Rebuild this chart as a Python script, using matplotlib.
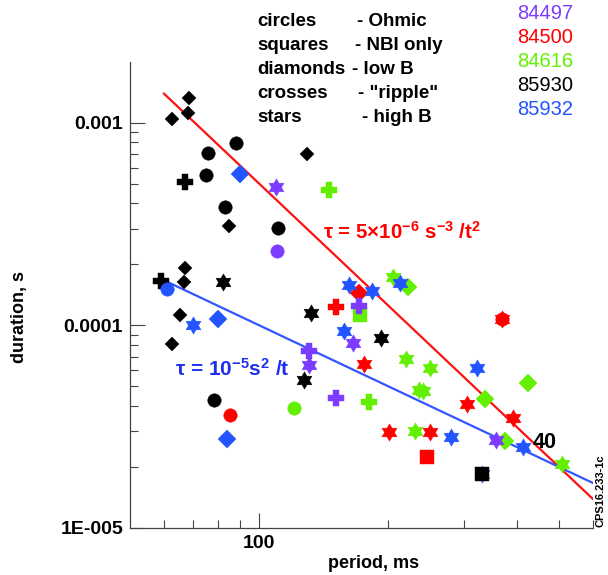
import matplotlib
matplotlib.use("Agg")
import matplotlib.pyplot as plt
import numpy as np
from matplotlib.path import Path
from matplotlib.ticker import FixedLocator, NullFormatter, LogLocator

plt.rcParams["font.family"] = ["Liberation Sans", "DejaVu Sans"]
plt.rcParams["mathtext.default"] = "regular"

# period t (ms), duration tau (s), regime of every point, per shot
t_84497 = [110.3, 130.4, 150.9, 171.0, 109.7, 130.5, 165.3, 356.0, 331.4]
tau_84497 = [2.33e-4, 7.46e-5, 4.37e-5, 1.24e-4, 4.80e-4, 6.37e-5, 8.14e-5, 2.72e-5, 1.84e-5]
reg_84497 = ["ohmic", "ripple", "ripple", "ripple", "highB", "highB", "highB", "highB", "highB"]

t_84500 = [85.4, 367.7, 246.0, 170.8, 150.7, 175.4, 305.9, 389.9, 200.4, 250.5, 367.7]
tau_84500 = [3.62e-5, 1.07e-4, 2.23e-5, 1.44e-4, 1.235e-4, 6.44e-5, 4.09e-5, 3.47e-5, 2.99e-5, 2.97e-5, 1.07e-4]
reg_84500 = ["ohmic", "ohmic", "nbi", "lowB", "ripple", "highB", "highB", "highB", "highB", "highB", "highB"]

t_84616 = [120.4, 171.4, 222.3, 422.5, 336.2, 374.2, 145.2, 180.7,
           205.2, 220.3, 250.5, 235.3, 240.9, 230.4, 509.4]
tau_84616 = [3.92e-5, 1.12e-4, 1.55e-4, 5.18e-5, 4.33e-5, 2.70e-5, 4.65e-4, 4.17e-5,
             1.74e-4, 6.79e-5, 6.14e-5, 4.80e-5, 4.74e-5, 3.01e-5, 2.08e-5]
reg_84616 = ["ohmic", "nbi", "lowB", "lowB", "lowB", "lowB", "ripple", "ripple",
             "highB", "highB", "highB", "highB", "highB", "highB", "highB"]

t_85930 = [88.3, 76.1, 75.3, 83.2, 110.5, 78.5, 331.4,
           68.8, 62.7, 68.4, 129.5, 85.2, 67.2, 66.9, 65.4, 62.8,
           67.2, 59.1, 82.2, 132.1, 127.5, 192.4]
tau_85930 = [7.91e-4, 7.06e-4, 5.51e-4, 3.85e-4, 3.01e-4, 4.27e-5, 1.84e-5,
             1.318e-3, 1.038e-3, 1.12e-3, 6.98e-4, 3.10e-4, 1.91e-4, 1.64e-4, 1.13e-4, 8.05e-5,
             5.11e-4, 1.66e-4, 1.64e-4, 1.15e-4, 5.36e-5, 8.63e-5]
reg_85930 = ["ohmic"] * 6 + ["nbi"] + ["lowB"] * 9 + ["ripple"] * 2 + ["highB"] * 4

t_85932 = [61.1, 90.3, 80.3, 84.2, 70.3, 161.8, 183.4, 157.5, 213.4, 322.6, 280.3, 411.3]
tau_85932 = [1.51e-4, 5.56e-4, 1.07e-4, 2.76e-5, 1.007e-4, 1.58e-4, 1.48e-4, 9.41e-5,
             1.61e-4, 6.14e-5, 2.82e-5, 2.52e-5]
reg_85932 = ["ohmic", "lowB", "lowB", "lowB"] + ["highB"] * 8

shots = ["84497", "84500", "84616", "85930", "85932"]
shot_colors = ["#7b3cff", "#ff0000", "#62f000", "#000000", "#2255ff"]

# scaling-law lines, drawn between these periods (ms)
t_fit = np.array([60.0, 600.0])

hexagram = Path.unit_regular_star(6, 0.577)
markers = {"ohmic": "o", "nbi": "s", "lowB": "D", "ripple": "P", "highB": hexagram}
sizes = {"ohmic": 9.7, "nbi": 9.6, "lowB": 8.8, "ripple": 11.5, "highB": 12.5}

W, H = 608, 575
fig = plt.figure(figsize=(W / 100, H / 100), dpi=100)
ax = fig.add_axes([130 / W, 1 - 528 / H, 463 / W, 466 / H])
ax.set_xscale("log")
ax.set_yscale("log")
ax.set_xlim(50, 600)
ax.set_ylim(1e-5, 1.99e-3)

ts = t_fit / 1000.0
ax.plot(t_fit, 5e-6 / ts ** 2, color="#ff1010", lw=1.6, zorder=2)
ax.plot(t_fit, 1e-5 / ts, color="#3355ff", lw=1.6, zorder=2)

data = {
    "84497": (t_84497, tau_84497, reg_84497),
    "84500": (t_84500, tau_84500, reg_84500),
    "84616": (t_84616, tau_84616, reg_84616),
    "85930": (t_85930, tau_85930, reg_85930),
    "85932": (t_85932, tau_85932, reg_85932),
}
draw_order = ["84616", "84500", "84497", "85930", "85932"]
for z, shot in enumerate(draw_order):
    color = shot_colors[shots.index(shot)]
    t, tau, reg = data[shot]
    for kind in ["ohmic", "highB", "lowB", "ripple", "nbi"]:
        xs = [a for a, r in zip(t, reg) if r == kind]
        ys = [b for b, r in zip(tau, reg) if r == kind]
        if not xs:
            continue
        ms = sizes[kind]
        if shot == "85930" and kind == "lowB":
            ms = 7.4
        ax.plot(xs, ys, ls="none", marker=markers[kind], ms=ms, color=color,
                mec=color, mew=0.3, zorder=3 + z * 0.1)

for side in ["top", "right"]:
    ax.spines[side].set_visible(False)
for side in ["left", "bottom"]:
    ax.spines[side].set_color("#444444")
    ax.spines[side].set_linewidth(0.9)

ax.xaxis.set_major_locator(FixedLocator([100]))
ax.xaxis.set_minor_locator(FixedLocator([60, 70, 80, 90, 200, 300, 400, 500, 600]))
ax.xaxis.set_minor_formatter(NullFormatter())
ax.set_xticklabels(["100"], fontsize=14, fontweight="bold")
ax.yaxis.set_major_locator(FixedLocator([1e-5, 1e-4, 1e-3]))
ax.yaxis.set_minor_locator(LogLocator(base=10, subs=np.arange(2, 10)))
ax.yaxis.set_minor_formatter(NullFormatter())
ax.set_yticklabels(["1E-005", "0.0001", "0.001"], fontsize=14, fontweight="bold")
ax.tick_params(which="major", direction="in", length=10.5, width=0.8, color="#444444", pad=5)
ax.tick_params(which="minor", direction="in", length=6, width=0.8, color="#444444")

fig.text(20 / W, 1 - 317 / H, "duration, s", rotation=90, ha="center", va="center",
         fontsize=13, fontweight="bold")
fig.text(374 / W, 1 - 563 / H, "period, ms", ha="center", va="center",
         fontsize=13, fontweight="bold")

# legend block
leg_left = ["circles", "squares", "diamonds", "crosses", "stars"]
leg_right = ["- Ohmic", "- NBI only", "- low B", '- "ripple"', "- high B"]
leg_y = [21.7, 45.7, 69.3, 93.3, 117.0]
dash_x = [356.7, 355.0, 351.7, 358.0, 361.7]
for a, b, y, dx in zip(leg_left, leg_right, leg_y, dash_x):
    fig.text(257 / W, 1 - y / H, a, ha="left", va="center", fontsize=13.5, fontweight="bold")
    fig.text(dx / W, 1 - y / H, b, ha="left", va="center", fontsize=13.5, fontweight="bold")
shot_y = [13.3, 37.3, 61.7, 85.7, 109.5]
for s, c, y in zip(shots, shot_colors, shot_y):
    fig.text(517 / W, 1 - y / H, s, ha="left", va="center", fontsize=14.5, color=c)

fig.text(323 / W, 1 - 232 / H, r"$\tau$ = 5×10$^{-6}$ s$^{-3}$ /t$^{2}$", ha="left", va="center",
         fontsize=14.8, fontweight="bold", color="#ff0000")
fig.text(175 / W, 1 - 369 / H, r"$\tau$ = 10$^{-5}$s$^{2}$ /t", ha="left", va="center",
         fontsize=15, fontweight="bold", color="#1f2fee")
fig.text(545 / W, 1 - 443 / H, "40", ha="center", va="center", fontsize=15.5, fontweight="bold")
fig.text(601 / W, 1 - 491 / H, "CPS16.233-1c", rotation=90, ha="center", va="center",
         fontsize=8, fontweight="bold")

fig.savefig("out.png", dpi=100)
